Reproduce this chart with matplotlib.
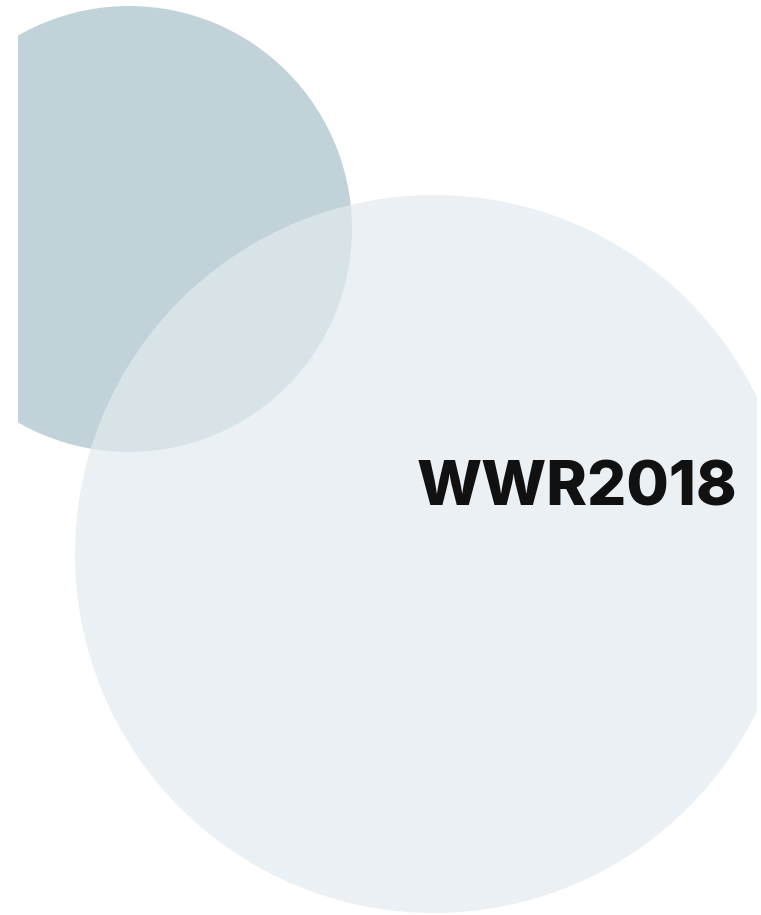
import matplotlib.pyplot as plt
from matplotlib.patches import Circle, Rectangle

# page size in pixels
page_w, page_h = 761, 915

# circles: centre x, centre y, radius (pixel coords, y down)
circle_names = ["small", "big"]
circle_x = [129, 434]
circle_y = [229, 554]
circle_r = [223, 359]
circle_colors = ["#C1D3D9", "#E2EBEE"]
circle_alpha = [1.0, 0.7]

title = "WWR2018"
title_x, title_y = 737, 506

fig = plt.figure(figsize=(page_w / 100, page_h / 100), dpi=100)
ax = fig.add_axes([0, 0, 1, 1])
ax.set_xlim(0, page_w)
ax.set_ylim(page_h, 0)
ax.axis("off")

# the artwork is trimmed to this box
clip = Rectangle((18, 0), 757 - 18, page_h, transform=ax.transData)

for i in range(len(circle_names)):
    c = Circle((circle_x[i], circle_y[i]), circle_r[i],
               facecolor=circle_colors[i], alpha=circle_alpha[i],
               edgecolor="none")
    ax.add_patch(c)
    c.set_clip_path(clip)

ax.text(title_x, title_y, title, ha="right", va="baseline",
        fontsize=44.3, fontweight="heavy", color="#111111", family="Inter")

fig.savefig("out.png", dpi=100)
